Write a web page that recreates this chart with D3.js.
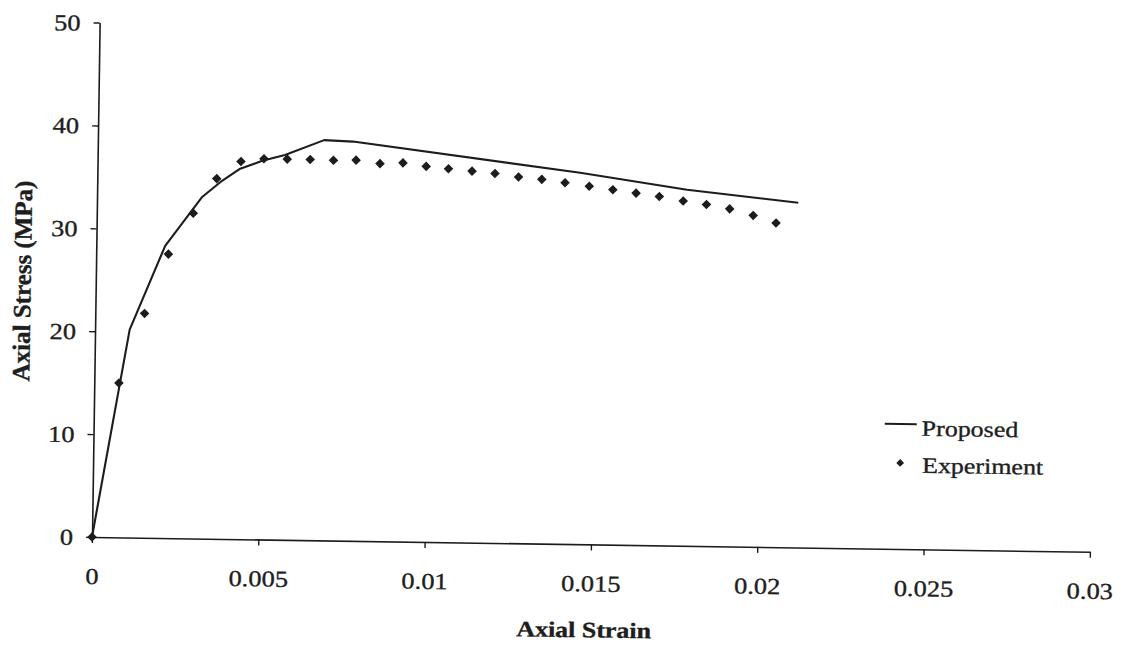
<!DOCTYPE html>
<html>
<head>
<meta charset="utf-8">
<script src="https://cdn.jsdelivr.net/npm/d3@7"></script>
<style>
  html, body { margin: 0; padding: 0; background: #fff; }
  svg { display: block; }
  text { font-family: "Liberation Serif", "Times New Roman", serif; fill: #1e1e1e; stroke: #1e1e1e; stroke-width: 0.35px; }
</style>
</head>
<body>
<svg id="chart" width="1122" height="647"></svg>
<script>
// ---- data ----
const xTicks = [0, 0.005, 0.01, 0.015, 0.02, 0.025, 0.03];
const xTickLabels = ["0", "0.005", "0.01", "0.015", "0.02", "0.025", "0.03"];
const yTicks = [0, 10, 20, 30, 40, 50];
const yTickLabels = ["0", "10", "20", "30", "40", "50"];

const proposedStrain = [0, 0.00104, 0.00207, 0.00316, 0.00375, 0.00429, 0.00495, 0.00563, 0.0068, 0.00767, 0.01451, 0.01773, 0.02108];
const proposedStress = [0, 20.2, 28.4, 33.2, 34.8, 36.0, 36.8, 37.4, 38.9, 38.8, 36.1, 34.6, 33.5];

const experimentStrain = [0, 0.00074, 0.00148, 0.00217, 0.0029, 0.00359, 0.00431, 0.0050, 0.0057, 0.00639,
  0.00709, 0.00777, 0.00849, 0.00918, 0.00988, 0.01055, 0.01126, 0.01195, 0.01266, 0.01336,
  0.01406, 0.01479, 0.0155, 0.0162, 0.0169, 0.01762, 0.01832, 0.01902, 0.01973, 0.02042];
const experimentStress = [0, 15.0, 21.8, 27.6, 31.6, 35.0, 36.7, 37.0, 37.0, 37.0,
  36.95, 37.0, 36.7, 36.8, 36.5, 36.3, 36.1, 35.9, 35.6, 35.4,
  35.1, 34.8, 34.5, 34.2, 33.9, 33.5, 33.2, 32.8, 32.2, 31.5];

const seriesNames = ["Proposed", "Experiment"];
const xTitle = "Axial Strain";
const yTitle = "Axial Stress (MPa)";

// ---- drawing ----
const svg = d3.select("#chart");
const ink = "#1c1c1c";
// the scanned figure is slightly skewed; reproduce with a small rotation about the origin
const g = svg.append("g").attr("transform", "translate(92,537) rotate(0.85)");

const x = d3.scaleLinear().domain([0, 0.03]).range([0, 998]);
const y = d3.scaleLinear().domain([0, 50]).range([0, -514.5]);

// x axis
const xAxis = g.append("g")
  .call(d3.axisBottom(x).tickValues(xTicks).tickFormat((d, i) => xTickLabels[i]).tickSize(6).tickSizeOuter(0));
xAxis.select(".domain").attr("stroke", ink).attr("stroke-width", 1.6);
xAxis.selectAll(".tick line").attr("stroke", ink).attr("stroke-width", 1.4);
xAxis.selectAll(".tick text")
  .attr("y", 0).attr("dy", 0)
  .attr("transform", "translate(0,47) scale(1.15,1)")
  .style("font-family", "Liberation Serif")
  .style("font-size", "23px")
  .attr("fill", "#1e1e1e");

// y axis
const yAxis = g.append("g")
  .call(d3.axisLeft(y).tickValues(yTicks).tickFormat((d, i) => yTickLabels[i]).tickSize(6).tickSizeOuter(0));
yAxis.select(".domain").attr("stroke", ink).attr("stroke-width", 1.6);
yAxis.selectAll(".tick line").attr("stroke", ink).attr("stroke-width", 1.4);
yAxis.selectAll(".tick text")
  .attr("x", 0).attr("dy", "0.34em")
  .attr("transform", "translate(-19,0) scale(1.15,1)")
  .style("font-family", "Liberation Serif")
  .style("font-size", "23px")
  .attr("fill", "#1e1e1e");

// proposed line
const proposed = proposedStrain.map((s, i) => [s, proposedStress[i]]);
g.append("path")
  .datum(proposed)
  .attr("fill", "none")
  .attr("stroke", ink)
  .attr("stroke-width", 2.1)
  .attr("stroke-linejoin", "round")
  .attr("d", d3.line().x(d => x(d[0])).y(d => y(d[1])));

// experiment diamonds
const experiment = experimentStrain.map((s, i) => [s, experimentStress[i]]);
const diamond = d3.symbol().type(d3.symbolSquare).size(46);
g.append("g").selectAll("path")
  .data(experiment)
  .join("path")
  .attr("d", diamond)
  .attr("fill", ink)
  .attr("transform", d => `translate(${x(d[0])},${y(d[1])}) rotate(45)`);

// axis titles
g.append("text")
  .attr("transform", "translate(493,93) scale(1.18,1)")
  .attr("text-anchor", "middle")
  .style("font-weight", "bold")
  .style("font-size", "22px")
  .text(xTitle);

g.append("text")
  .attr("transform", "translate(-65,-255) rotate(-90)")
  .attr("text-anchor", "middle")
  .style("font-weight", "bold")
  .style("font-size", "25px")
  .text(yTitle);

// legend
const legend = g.append("g").attr("transform", "translate(791,-125)");
legend.append("line")
  .attr("x1", 0).attr("x2", 32).attr("y1", 0).attr("y2", 0)
  .attr("stroke", ink).attr("stroke-width", 2);
legend.append("text")
  .attr("transform", "translate(37,11.5) scale(1.18,1)")
  .style("font-size", "22px")
  .text(seriesNames[0]);
legend.append("path")
  .attr("d", d3.symbol().type(d3.symbolSquare).size(30))
  .attr("fill", ink)
  .attr("transform", "translate(16,39) rotate(45)");
legend.append("text")
  .attr("transform", "translate(38,48.5) scale(1.18,1)")
  .style("font-size", "22px")
  .text(seriesNames[1]);
</script>
</body>
</html>
